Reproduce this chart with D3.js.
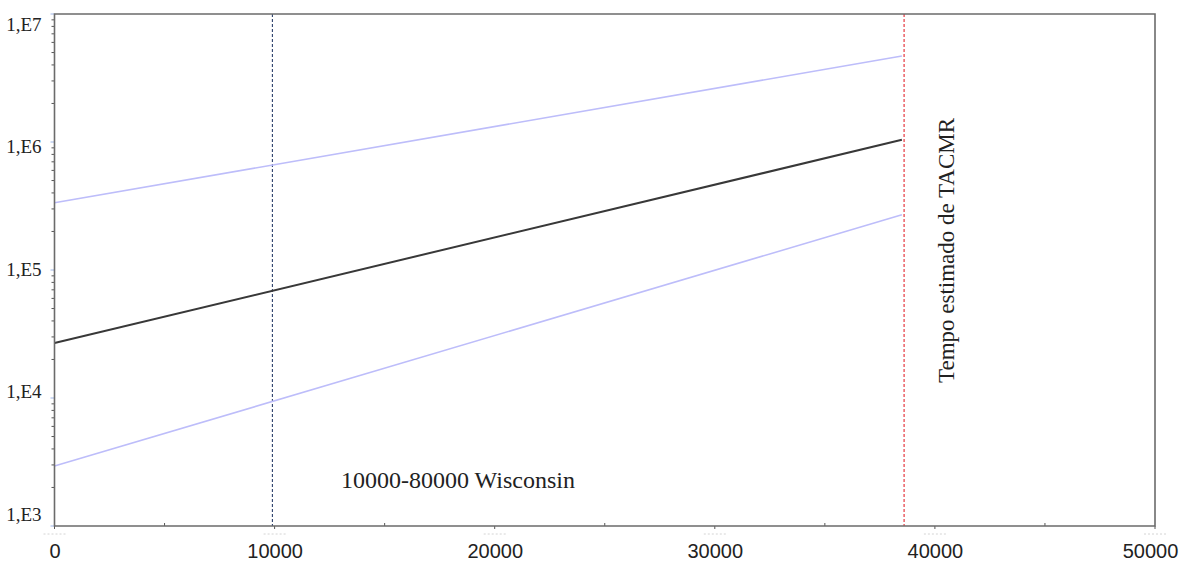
<!DOCTYPE html>
<html>
	<head>
		<style>
			body, html { margin: 0; padding: 0; background: #fff; }
			.frame { fill: none; stroke: #6b6b6b; stroke-width: 1.6px; }
			.ylab text { font: 19px "Liberation Serif", serif; fill: #222; }
			.xlab text { font: 20px "Liberation Sans", Arial, sans-serif; fill: #222; }
			.note { font-family: "Liberation Serif", serif; fill: #222; }
		</style>
	</head>
	<body>
		<svg id="svg" width="1180" height="563"></svg>

		<script src="https://d3js.org/d3.v7.min.js"></script>
		<script>
			// Data
			const xTicks = [0, 10000, 20000, 30000, 40000, 50000]
			const yTicks = [1e3, 1e4, 1e5, 1e6, 1e7]
			const yLabels = ['1,E3', '1,E4', '1,E5', '1,E6', '1,E7']
			// the three lines run from x = 0 to the estimated time
			const lineX = [0, 38500]
			const central = [26900, 1040000]
			const upper = [335000, 4700000]
			const lower = [2940, 270000]
			// reference lines
			const wisconsinX = 9900
			const tacmrX = 38600

			// plot box ('top' is taken by window, hence the names)
			const pLeft = 54.5, pRight = 1155, pTop = 14, pBottom = 526

			const x = d3.scaleLinear().domain([0, 50000]).range([pLeft, pRight])
			const y = d3.scaleLog().domain([1e3, 1e7]).range([pBottom, pTop])
			// the labels of the original sit a little off their ticks
			const yLab = d3.scaleLog().domain([1e3, 1e7]).range([514, 24])

			const svg = d3.select('#svg')

			// minor log ticks on the left axis
			const minor = []
			for (let e = 3; e < 7; e++)
				for (let m = 2; m < 10; m++) minor.push(m * Math.pow(10, e))
			svg.append('g')
				.selectAll('line').data(minor).enter().append('line')
				.attr('x1', pLeft - 3).attr('x2', pLeft)
				.attr('y1', d => y(d)).attr('y2', d => y(d))
				.style('stroke', '#555').style('stroke-width', 1)
			svg.append('g')
				.selectAll('line').data(yTicks).enter().append('line')
				.attr('x1', pLeft - 4).attr('x2', pLeft)
				.attr('y1', d => y(d)).attr('y2', d => y(d))
				.style('stroke', '#9db4e6').style('stroke-width', 1)

			// minor ticks on the bottom axis, pointing in
			svg.append('g')
				.selectAll('line').data(d3.range(5000, 50000, 10000)).enter().append('line')
				.attr('x1', d => x(d)).attr('x2', d => x(d))
				.attr('y1', pBottom - 3).attr('y2', pBottom)
				.style('stroke', '#555').style('stroke-width', 1)
			// major ticks and the faint dotted marks below them
			const major = svg.append('g').selectAll('g').data(xTicks).enter().append('g')
			major.append('line')
				.attr('x1', d => x(d)).attr('x2', d => x(d))
				.attr('y1', pBottom).attr('y2', pBottom + 3)
				.style('stroke', '#555').style('stroke-width', 1)
			major.append('line')
				.attr('x1', d => x(d) - 11).attr('x2', d => x(d) + 11)
				.attr('y1', pBottom + 8).attr('y2', pBottom + 8)
				.style('stroke', '#d4d4d4').style('stroke-dasharray', '2,2')

			// y labels
			svg.append('g').attr('class', 'ylab')
				.attr('transform', `translate(${pLeft - 10},0)`)
				.call(d3.axisLeft(yLab).tickValues(yTicks).tickSize(0)
					.tickFormat((d, i) => yLabels[i]))
				.call(g => g.select('.domain').remove())
				.selectAll('text').attr('dy', '0.32em')

			// x labels, the last one is pushed in so it stays on the page
			svg.append('g').attr('class', 'xlab')
				.attr('transform', `translate(0,${pBottom + 15})`)
				.call(d3.axisBottom(x).tickValues(xTicks).tickSize(0).tickFormat(d3.format('d')))
				.call(g => g.select('.domain').remove())
				.selectAll('text').attr('dy', '0.71em')
				.attr('dx', (d, i) => i === xTicks.length - 1 ? -5 : 0)

			// vertical dashed reference lines
			svg.append('line')
				.attr('x1', x(wisconsinX)).attr('x2', x(wisconsinX))
				.attr('y1', pTop).attr('y2', pBottom)
				.style('stroke', '#2a3f6a').style('stroke-width', 1.1).style('stroke-dasharray', '3,2')
			svg.append('line')
				.attr('x1', x(tacmrX)).attr('x2', x(tacmrX))
				.attr('y1', pTop).attr('y2', pBottom)
				.style('stroke', '#e3262e').style('stroke-width', 1.1).style('stroke-dasharray', '3,2')

			// the three lines
			const line = d3.line().x(d => x(d[0])).y(d => y(d[1]))
			const series = [
				{ values: upper, color: '#bdbdfa', width: 1.6 },
				{ values: lower, color: '#bdbdfa', width: 1.6 },
				{ values: central, color: '#383838', width: 2 }
			]
			svg.append('g').selectAll('path').data(series).enter().append('path')
				.attr('d', s => line(lineX.map((v, i) => [v, s.values[i]])))
				.style('fill', 'none')
				.style('stroke', s => s.color)
				.style('stroke-width', s => s.width)

			// frame
			svg.append('path').attr('class', 'frame')
				.attr('d', `M${pLeft},${pTop}H${pRight}V${pBottom}H${pLeft}Z`)

			// annotations
			svg.append('text').attr('class', 'note')
				.attr('x', 341).attr('y', 488)
				.style('font-size', '24px')
				.text('10000-80000 Wisconsin')
			svg.append('text').attr('class', 'note')
				.attr('transform', 'translate(954,383) rotate(-90)')
				.style('font-size', '23px')
				.text('Tempo estimado de TACMR')
		</script>
	</body>
</html>
